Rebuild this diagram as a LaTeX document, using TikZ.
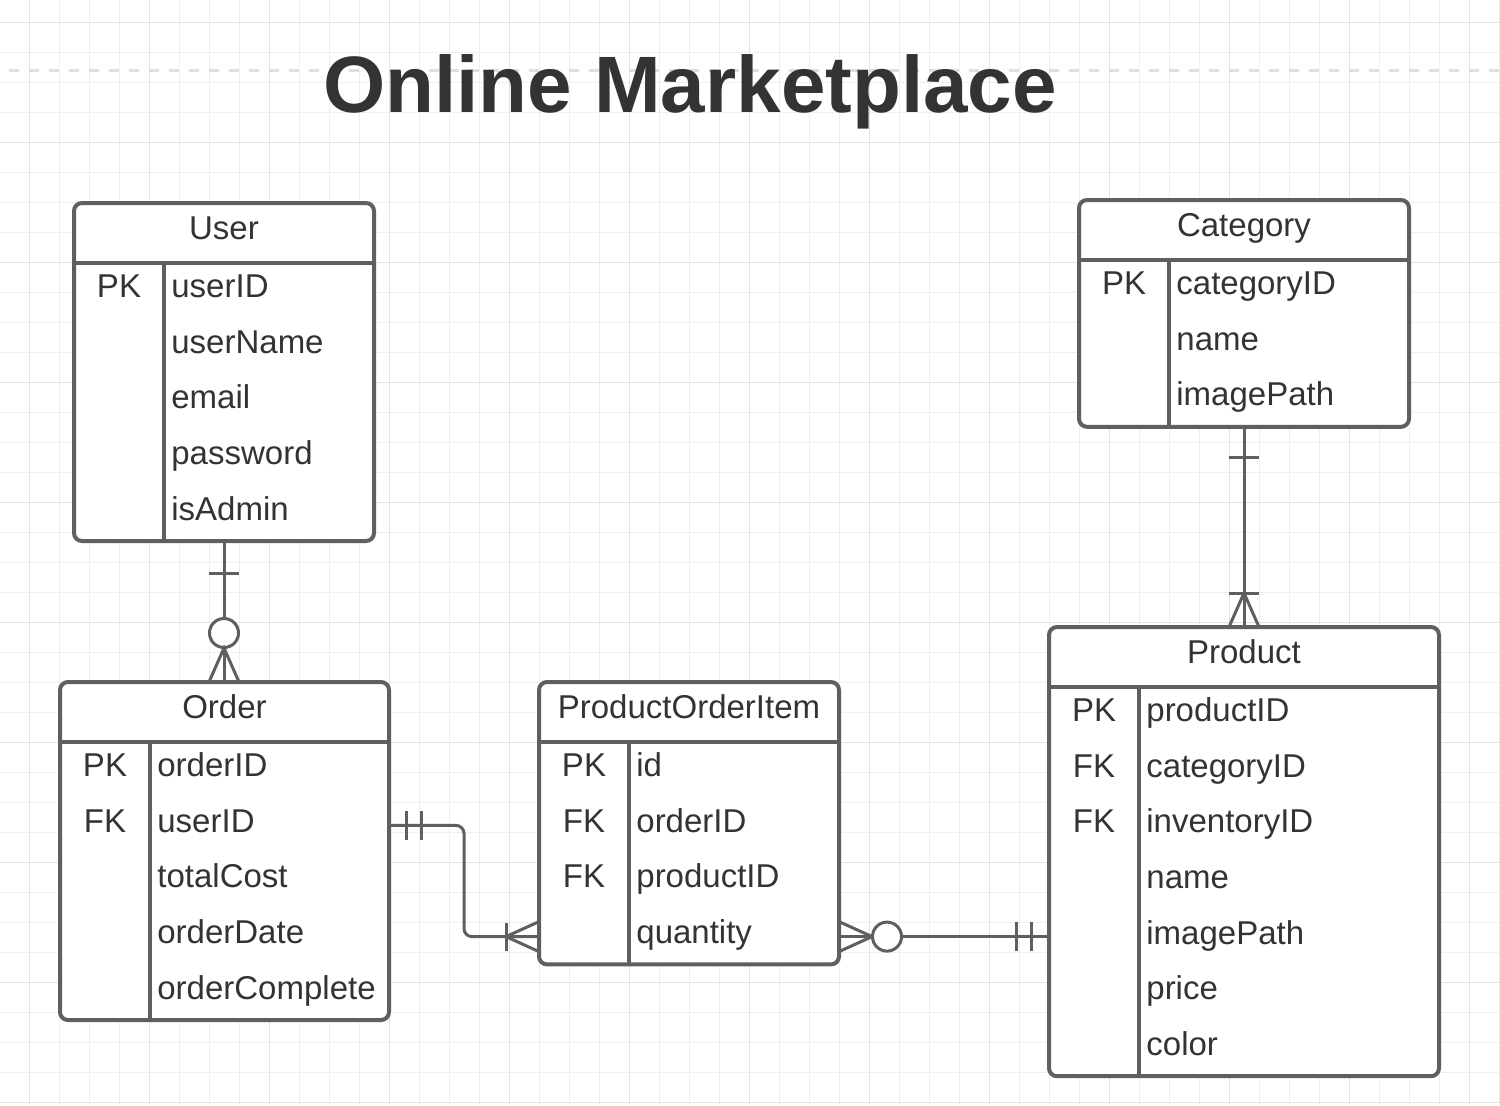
\documentclass[tikz,border=0pt]{standalone}
\usepackage{fontspec}
\setmainfont{Liberation Sans}
\usetikzlibrary{calc}

\definecolor{linegray}{HTML}{5F5F5F}
\definecolor{textgray}{HTML}{333333}
\definecolor{gridminor}{HTML}{EFEFEF}
\definecolor{gridmajor}{HTML}{E2E2E2}
\definecolor{guidegray}{HTML}{DEDEDE}

\tikzset{
	entity/.style={draw=linegray, line width=2pt, rounded corners=4pt, fill=white, inner sep=0pt, outer sep=0pt, anchor=north west},
	rule/.style={draw=linegray, line width=1.8pt},
	link/.style={draw=linegray, line width=1.5pt},
	head/.style={anchor=base, inner sep=0pt, text=textgray, font=\fontsize{16.5pt}{19pt}\selectfont},
	key/.style={anchor=base, inner sep=0pt, text=textgray, font=\fontsize{16.5pt}{19pt}\selectfont},
	field/.style={anchor=base west, inner sep=0pt, text=textgray, font=\fontsize{16.5pt}{19pt}\selectfont},
	titletext/.style={anchor=base, inner sep=0pt, text=textgray, font=\fontsize{40pt}{48pt}\selectfont\bfseries},
	minor/.style={draw=gridminor, line width=0.5pt},
	major/.style={draw=gridmajor, line width=0.75pt},
	guide/.style={draw=guidegray, line width=1.6pt, dash pattern=on 5pt off 5pt}
}

\newcommand{\erentity}[6]{%
	\node[entity, minimum width=#3, minimum height=#4] (#1) at (#2) {};
	\draw[rule] ([yshift=-30pt]#1.north west) -- ([yshift=-30pt]#1.north east);
	\draw[rule] ([xshift=45pt,yshift=-30pt]#1.north west) -- ([xshift=45pt]#1.south west);
	\node[head] (#1-title) at ([yshift=-18.2pt]#1.north) {#5};
	\foreach \k/\f [count=\i] in {#6} {
		\node[key] (#1-key-\i) at ([xshift=22.5pt,yshift={-47.3pt-27.8pt*(\i-1)}]#1.north west) {\k};
		\node[field] (#1-row-\i) at ([xshift=48.5pt,yshift={-47.3pt-27.8pt*(\i-1)}]#1.north west) {\f};
	}
}

\begin{document}
\begin{tikzpicture}[x=0.5pt, y=-0.5pt]
	\useasboundingbox (0,0) rectangle (1500,1105);
	\fill[white] (0,0) rectangle (1500,1105);

	\foreach \x in {29.3,59.3,...,1500} \draw[minor] (\x,0) -- (\x,1105);
	\foreach \y in {22.3,52.3,...,1105} \draw[minor] (0,\y) -- (1500,\y);
	\foreach \x in {29.3,149.3,...,1500} \draw[major] (\x,0) -- (\x,1105);
	\foreach \y in {22.3,142.3,...,1105} \draw[major] (0,\y) -- (1500,\y);

	\draw[guide] (9,70.7) -- (1500,70.7);
	\node[titletext] (title) at (690,112) {Online Marketplace};

	\erentity{user}{74,203}{150pt}{169pt}{User}{PK/userID, /userName, /email, /password, /isAdmin}
	\erentity{category}{1079,200}{165pt}{113.4pt}{Category}{PK/categoryID, /name, /imagePath}
	\erentity{product}{1049,627}{195pt}{224.6pt}{Product}{PK/productID, FK/categoryID, FK/inventoryID, /name, /imagePath, /price, /color}
	\erentity{order}{60,682}{164.5pt}{169pt}{Order}{PK/orderID, FK/userID, /totalCost, /orderDate, /orderComplete}
	\erentity{poi}{539,682}{150pt}{141.2pt}{ProductOrderItem}{PK/id, FK/orderID, FK/productID, /quantity}

	\coordinate (user-out) at (user.south);
	\coordinate (order-in) at (user.south |- order.north);
	\draw[link] (user-out) -- (order-in);
	\draw[link] ([xshift=-7.5pt,yshift=-16pt]user-out) -- ++(15pt,0);
	\draw[link, fill=white] ([yshift=-46pt]user-out) circle (7.25pt);
	\draw[link] ([xshift=-7.5pt]order-in) -- ([yshift=17pt]order-in) -- ([xshift=7.5pt]order-in);

	\coordinate (category-out) at (category.south);
	\coordinate (product-in) at (category.south |- product.north);
	\draw[link] (category-out) -- (product-in);
	\draw[link] ([xshift=-7.5pt,yshift=-15.5pt]category-out) -- ++(15pt,0);
	\draw[link] ([xshift=-7.5pt,yshift=17pt]product-in) -- ++(15pt,0);
	\draw[link] ([xshift=-7.5pt]product-in) -- ([yshift=17pt]product-in) -- ([xshift=7.5pt]product-in);

	\coordinate (order-out) at ([yshift=-71.7pt]order.north east);
	\coordinate (poi-in) at ([yshift=-127.3pt]poi.north west);
	\draw[link, rounded corners=4pt] (order-out) -| ($(order-out)!.5!(poi-in)$) |- (poi-in);
	\draw[link] ([xshift=8.5pt,yshift=-7.25pt]order-out) -- ++(0,14.5pt);
	\draw[link] ([xshift=16pt,yshift=-7.25pt]order-out) -- ++(0,14.5pt);
	\draw[link] ([xshift=-16.5pt,yshift=-7pt]poi-in) -- ++(0,14pt);
	\draw[link] ([yshift=7.5pt]poi-in) -- ([xshift=-16.5pt]poi-in) -- ([yshift=-7.5pt]poi-in);

	\coordinate (poi-out) at ([yshift=-127.3pt]poi.north east);
	\coordinate (product-side) at (poi-out -| product.west);
	\draw[link] (poi-out) -- (product-side);
	\draw[link] ([yshift=7.5pt]poi-out) -- ([xshift=16.5pt]poi-out) -- ([yshift=-7.5pt]poi-out);
	\draw[link, fill=white] ([xshift=24pt]poi-out) circle (7.25pt);
	\draw[link] ([xshift=-16.5pt,yshift=-7.25pt]product-side) -- ++(0,14.5pt);
	\draw[link] ([xshift=-9pt,yshift=-7.25pt]product-side) -- ++(0,14.5pt);
\end{tikzpicture}
\end{document}
